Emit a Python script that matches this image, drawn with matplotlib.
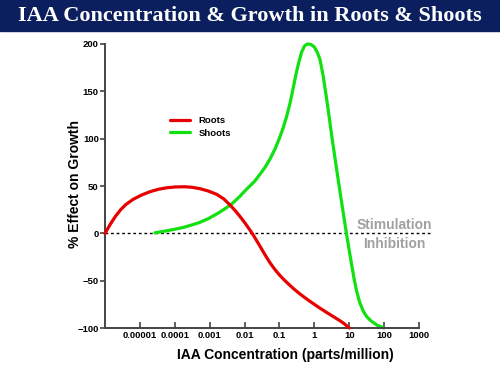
import matplotlib
matplotlib.use("Agg")
import matplotlib.pyplot as plt
import numpy as np
from matplotlib.patches import Rectangle

# data: log10 of concentration (ppm) and % effect on growth
roots_log = [-6.0, -5.85, -5.7, -5.55, -5.4, -5.19, -4.95, -4.71, -4.47, -4.24,
             -3.98, -3.71, -3.5, -3.28, -3.04, -2.8, -2.6, -2.418, -2.27, -2.13,
             -2.0, -1.89, -1.768, -1.559, -1.415, -1.272, -1.129, -0.986, -0.842, -0.699,
             -0.556, -0.413, -0.269, -0.126, 0.017, 0.16, 0.304, 0.447, 0.59, 0.734,
             0.877, 1.0]
roots_y = [0, 9.5, 18, 25, 30.5, 36, 40.5, 44, 46.5, 48.1,
           49, 49.2, 48.6, 47.2, 44.7, 41.2, 36.5, 30, 24, 17.8,
           11.5, 5.8, -0.7, -13.5, -22.6, -31, -38.3, -44.5, -50, -55,
           -59.7, -64, -68, -71.8, -75.4, -79, -82.4, -85.7, -89, -92.3,
           -96, -100]

shoots_log = [-4.57, -4.23, -4.0, -3.75, -3.5, -3.28, -3.04, -2.8, -2.58, -2.37,
              -2.15, -1.94, -1.82, -1.7, -1.56, -1.415, -1.27, -1.13, -1.0, -0.89,
              -0.79, -0.7, -0.63, -0.576, -0.52, -0.45, -0.364, -0.28, -0.2, -0.1,
              -0.003, 0.08, 0.16, 0.255, 0.38, 0.51, 0.67, 0.8, 0.92, 1.0,
              1.069, 1.14, 1.212, 1.3, 1.401, 1.5, 1.642, 1.8, 2.0]
shoots_y = [0.5, 2.7, 4.3, 6.3, 9, 11.6, 15.5, 20.4, 25.5, 30.9,
            38.5, 46.7, 51, 55.5, 62.3, 69.6, 78.5, 88.9, 100.5, 111.8,
            124, 137, 149, 159, 169, 180, 191.5, 198, 200, 199.5,
            197, 191.5, 184, 166, 135, 100, 60, 28.5, 0, -18,
            -33, -48, -61, -73, -82, -88, -93, -97, -100]

x_ticks = [1e-5, 1e-4, 1e-3, 1e-2, 1e-1, 1, 10, 100, 1000]
x_labels = ["0.00001", "0.0001", "0.001", "0.01", "0.1", "1", "10", "100", "1000"]
y_ticks = [-100, -50, 0, 50, 100, 150, 200]

sans = "Liberation Sans"
axis_col = "#444444"

fig = plt.figure(figsize=(5, 3.75), dpi=100)

# title banner
fig.add_artist(Rectangle((0, 1 - 31 / 375), 1, 31 / 375, transform=fig.transFigure,
                         color="#0b1f5e", zorder=0))
fig.text(0.5, 1 - 16 / 375, "IAA Concentration & Growth in Roots & Shoots",
         family="Liberation Serif", weight="bold", size=16, color="white",
         ha="center", va="center")

ax = fig.add_axes([0.21, 0.1253, 0.628, 0.7574])
ax.set_xscale("log")
ax.set_xlim(1e-6, 1e3)
ax.set_ylim(-100, 200)

ax.axhline(0, xmin=0, xmax=1.041, color="black", lw=1, ls=(0, (2, 2)),
           clip_on=False, zorder=1)
ax.plot(10 ** np.array(roots_log), roots_y, color="#e80000", lw=2.3, label="Roots",
        clip_on=False, zorder=3, solid_capstyle="round", solid_joinstyle="round")
ax.plot(10 ** np.array(shoots_log), shoots_y, color="#11e011", lw=2.3, label="Shoots",
        clip_on=False, zorder=2, solid_capstyle="round", solid_joinstyle="round")

for s in ["top", "right"]:
    ax.spines[s].set_visible(False)
for s in ["left", "bottom"]:
    ax.spines[s].set_color(axis_col)
    ax.spines[s].set_linewidth(1.4)

ax.set_xticks(x_ticks)
ax.set_xticklabels(x_labels)
ax.minorticks_off()
ax.set_yticks(y_ticks)
ax.tick_params(axis="x", direction="in", length=4, width=1.2, color=axis_col, pad=2)
ax.tick_params(axis="y", direction="out", length=3.5, width=1.2, color=axis_col, pad=1)
for lab in ax.get_xticklabels() + ax.get_yticklabels():
    lab.set_family(sans)
    lab.set_weight("bold")
    lab.set_fontsize(6.8)

fig.text(0.571, 1 - 355 / 375, "IAA Concentration (parts/million)", family=sans,
         weight="bold", size=10, ha="center", va="center")
fig.text(0.15, 1 - 184 / 375, "% Effect on Growth", family=sans, weight="bold",
         size=10, rotation=90, ha="center", va="center")

ax.text(0.922, 0.363, "Stimulation", transform=ax.transAxes, family=sans,
        weight="bold", size=10, color="#a0a0a0", ha="center", va="center")
ax.text(0.922, 0.296, "Inhibition", transform=ax.transAxes, family=sans,
        weight="bold", size=10, color="#a0a0a0", ha="center", va="center")

leg = ax.legend(loc="center left", bbox_to_anchor=(0.34, 1 - 127 / 375),
                bbox_transform=fig.transFigure, frameon=False, borderpad=0,
                borderaxespad=0, handlelength=2.1, handletextpad=0.9,
                labelspacing=0.35, prop={"family": sans, "weight": "bold", "size": 6.8})

fig.savefig("out.png", dpi=100)
